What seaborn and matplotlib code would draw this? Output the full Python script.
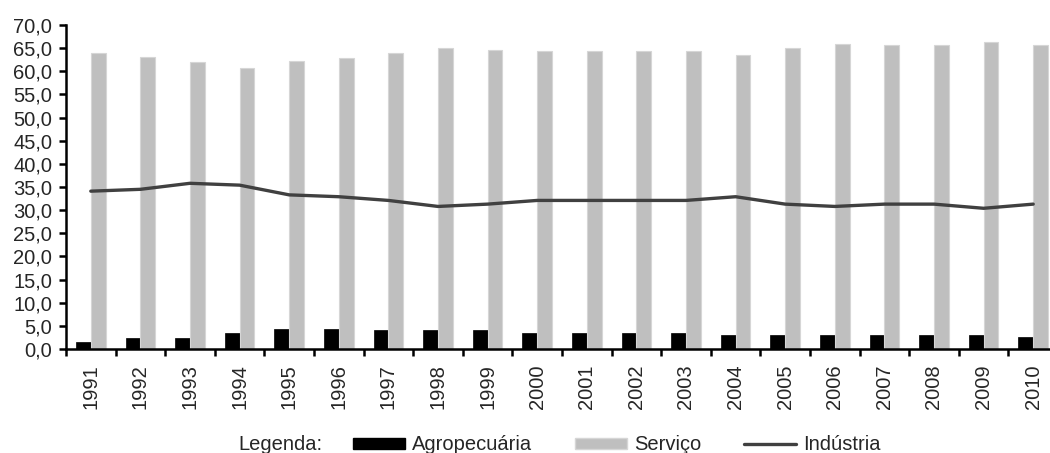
import matplotlib
matplotlib.use("Agg")
import matplotlib.pyplot as plt
import seaborn as sns
import pandas as pd
import numpy as np
from matplotlib.patches import Patch
from matplotlib.lines import Line2D
from matplotlib.ticker import FuncFormatter, FixedLocator

anos = [str(a) for a in range(1991, 2011)]
agropecuaria = [1.5, 2.3, 2.3, 3.5, 4.3, 4.3, 4.0, 4.0, 4.0, 3.5,
                3.5, 3.5, 3.5, 3.1, 3.1, 3.1, 3.1, 3.1, 3.1, 2.7]
servico = [64.0, 63.1, 62.0, 60.8, 62.3, 62.8, 64.0, 65.1, 64.7, 64.4,
           64.4, 64.4, 64.4, 63.6, 65.1, 66.0, 65.6, 65.6, 66.4, 65.6]
industria = [34.1, 34.5, 35.8, 35.4, 33.3, 32.9, 32.1, 30.8, 31.3, 32.1,
             32.1, 32.1, 32.1, 32.9, 31.3, 30.8, 31.3, 31.3, 30.4, 31.3]

sns.set_style("white")
plt.rcParams['font.family'] = ['Liberation Sans', 'DejaVu Sans']

df = pd.DataFrame({
    "Ano": anos * 2,
    "Valor": agropecuaria + servico,
    "Setor": ["Agropecuária"] * len(anos) + ["Serviço"] * len(anos),
})

fig = plt.figure(figsize=(10.5, 4.53), dpi=100)
W, H = 1050, 453
ax = fig.add_axes([66 / W, (H - 349) / H, 992 / W, (349 - 25) / H])

sns.barplot(data=df, x="Ano", y="Valor", hue="Setor",
            palette={"Agropecuária": "black", "Serviço": "#bfbfbf"},
            width=0.6, dodge=True, ax=ax, legend=False, saturation=1)
for p in ax.patches:
    fc = p.get_facecolor()
    if fc[0] > 0.5:
        p.set_edgecolor("#d6d6d6")
        p.set_linewidth(0.8)
    else:
        p.set_edgecolor("black")
        p.set_linewidth(0.5)

sns.lineplot(x=np.arange(len(anos)), y=industria, color="#404040",
             linewidth=2.4, ax=ax)

ax.set_xlim(-0.5, len(anos) - 0.5)
ax.set_ylim(0, 70)
ax.set_yticks(np.arange(0, 70.1, 5))
ax.yaxis.set_major_formatter(FuncFormatter(lambda v, p: f"{v:.1f}".replace('.', ',')))

ax.xaxis.set_major_locator(FixedLocator(np.arange(-0.5, len(anos) - 0.5, 1)))
ax.xaxis.set_minor_locator(FixedLocator(np.arange(len(anos))))
ax.set_xticklabels([], minor=False)
ax.set_xticklabels(anos, minor=True, rotation=90, fontsize=14.5)
ax.tick_params(axis='x', which='major', direction='out', length=5, width=1.8,
               color='black', bottom=True)
ax.tick_params(axis='x', which='minor', length=0, pad=11, bottom=True)
ax.tick_params(axis='y', direction='out', length=5, width=1.8, labelsize=14.5,
               pad=5, color='black', left=True)

ax.set_xlabel("")
ax.set_ylabel("")
for s in ["top", "right"]:
    ax.spines[s].set_visible(False)
for s in ["left", "bottom"]:
    ax.spines[s].set_color("black")
    ax.spines[s].set_linewidth(1.8)

ly = (H - 445) / H
fig.text(238 / W, ly, "Legenda:", fontsize=14.5, va="center", ha="left")
handles = [Patch(facecolor="black", edgecolor="black"),
           Patch(facecolor="#bfbfbf", edgecolor="#d6d6d6"),
           Line2D([0], [0], color="#404040", linewidth=2.4)]
labels = ["Agropecuária", "Serviço", "Indústria"]
fig.legend(handles, labels, loc="center left", bbox_to_anchor=(353 / W, ly),
           ncol=3, frameon=False, fontsize=14.5, borderpad=0, borderaxespad=0,
           handlelength=2.6, handleheight=0.5, handletextpad=0.35, columnspacing=2.1)

fig.savefig("out.png", dpi=100)
